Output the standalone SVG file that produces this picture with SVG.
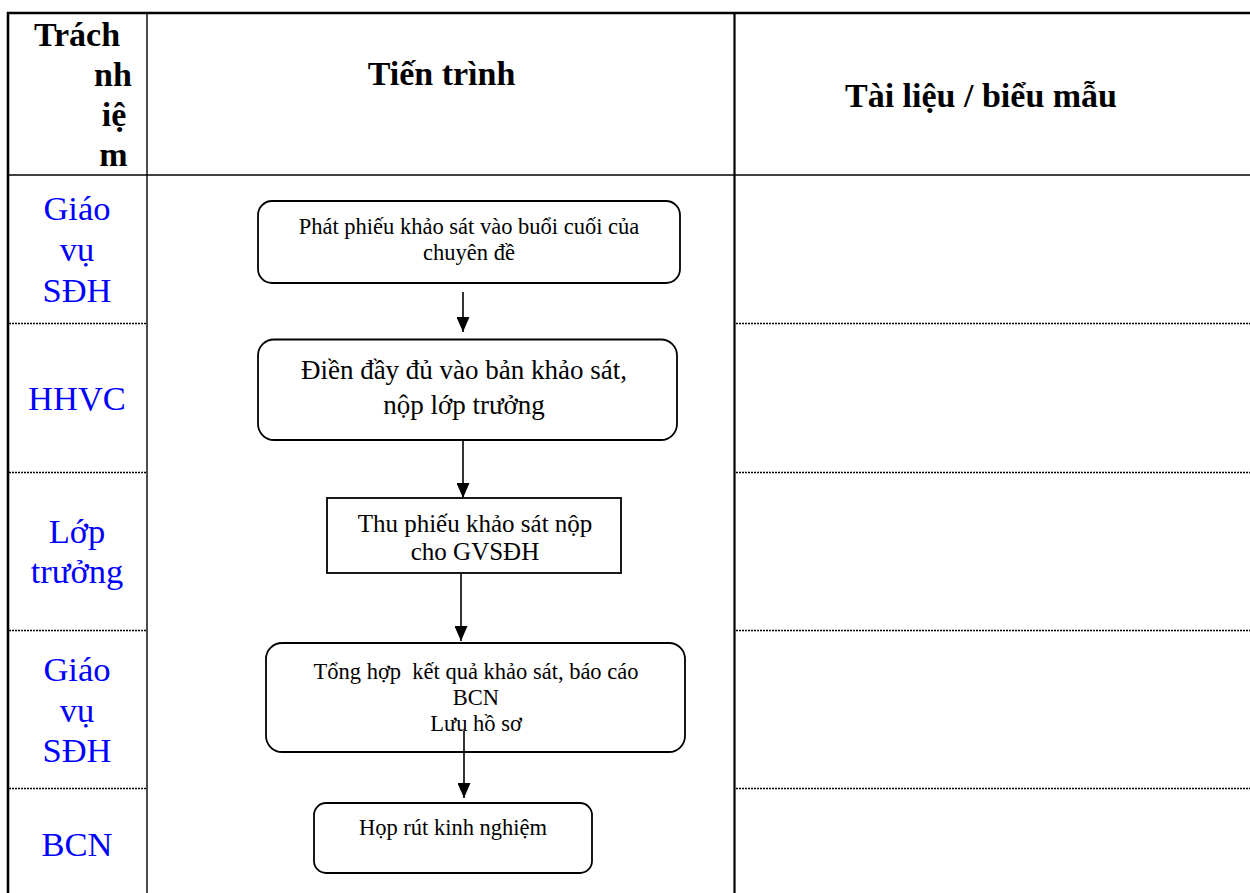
<svg xmlns="http://www.w3.org/2000/svg" width="1250" height="893" viewBox="0 0 1250 893">
<style>
text{font-family:"Liberation Serif","Times New Roman",serif;fill:#000}
.hd{font-weight:bold;font-size:34px}
.role{fill:#0000ff;font-size:34.5px;text-anchor:middle}
.t{text-anchor:middle}
.s{font-size:22.5px}
.box{fill:#fff;stroke:#000;stroke-width:1.8}
.grid{stroke:#000;fill:none}
.dot{stroke:#000;stroke-width:1.3;stroke-dasharray:2 1;fill:none}
.conn{stroke:#000;stroke-width:1.6;fill:none;marker-end:url(#ah)}
</style>
<defs>
<marker id="ah" markerUnits="userSpaceOnUse" markerWidth="15" markerHeight="13" refX="15" refY="6.5" orient="auto">
<path d="M0,0 L15,6.5 L0,13 z" fill="#000"/>
</marker>
</defs>
<rect width="1250" height="893" fill="#fff"/>
<g id="table">
<line class="grid" x1="7" y1="13" x2="1250" y2="13" stroke-width="2.6"/>
<line class="grid" x1="8" y1="12" x2="8" y2="893" stroke-width="2.6"/>
<line class="grid" x1="147" y1="13" x2="147" y2="893" stroke-width="1.4"/>
<line class="grid" x1="734.5" y1="13" x2="734.5" y2="893" stroke-width="2.2"/>
<line class="grid" x1="8" y1="175" x2="1250" y2="175" stroke-width="1.4"/>
<path class="dot" d="M9,323.5H147M9,472.5H147M9,630.5H147M9,788.5H147M736,323.5H1250M736,472.5H1250M736,630.5H1250M736,788.5H1250"/>
</g>
<g id="header">
<text class="hd t" x="77" y="46">Trách</text>
<text class="hd t" x="113" y="86">nh</text>
<text class="hd t" x="114" y="126">iệ</text>
<text class="hd t" x="113.5" y="166">m</text>
<text class="hd t" x="441.5" y="85">Tiến trình</text>
<text class="hd t" x="981" y="107">Tài liệu / biểu mẫu</text>
</g>
<g id="roles">
<text class="role" x="77" y="220">Giáo</text>
<text class="role" x="77" y="261">vụ</text>
<text class="role" x="77" y="301.5">SĐH</text>
<text class="role" x="77" y="410">HHVC</text>
<text class="role" x="77" y="543">Lớp</text>
<text class="role" x="77" y="583">trưởng</text>
<text class="role" x="77" y="680.5">Giáo</text>
<text class="role" x="77" y="721.5">vụ</text>
<text class="role" x="77" y="761.5">SĐH</text>
<text class="role" x="77" y="856">BCN</text>
</g>
<g id="n1">
<rect class="box" x="258" y="201" width="422" height="82" rx="14"/>
<text class="t s" x="469" y="234">Phát phiếu khảo sát vào buổi cuối của</text>
<text class="t s" x="469" y="260">chuyên đề</text>
</g>
<g id="n2">
<rect class="box" x="258" y="339.5" width="419" height="100.5" rx="16"/>
<text class="t" x="464" y="379" font-size="27">Điền đầy đủ vào bản khảo sát,</text>
<text class="t" x="464" y="414" font-size="27">nộp lớp trưởng</text>
</g>
<g id="n3">
<rect class="box" x="327" y="498" width="294" height="75" rx="0"/>
<text class="t" x="475" y="532" font-size="25">Thu phiếu khảo sát nộp</text>
<text class="t" x="475" y="560" font-size="25">cho GVSĐH</text>
</g>
<g id="n4">
<rect class="box" x="266" y="643" width="419" height="109" rx="16"/>
<text class="t s" x="476" y="679" xml:space="preserve">Tổng hợp  kết quả khảo sát, báo cáo</text>
<text class="t s" x="476" y="705">BCN</text>
<text class="t s" x="476" y="731">Lưu hồ sơ</text>
</g>
<g id="n5">
<rect class="box" x="314" y="803" width="278" height="70" rx="12"/>
<text class="t s" x="453" y="835">Họp rút kinh nghiệm</text>
</g>
<g id="connectors">
<line class="conn" x1="463" y1="292" x2="463" y2="332"/>
<line class="conn" x1="463" y1="440" x2="463" y2="498"/>
<line class="conn" x1="461" y1="573" x2="461" y2="641"/>
<line class="conn" x1="464" y1="731" x2="464" y2="798"/>
</g>
</svg>
